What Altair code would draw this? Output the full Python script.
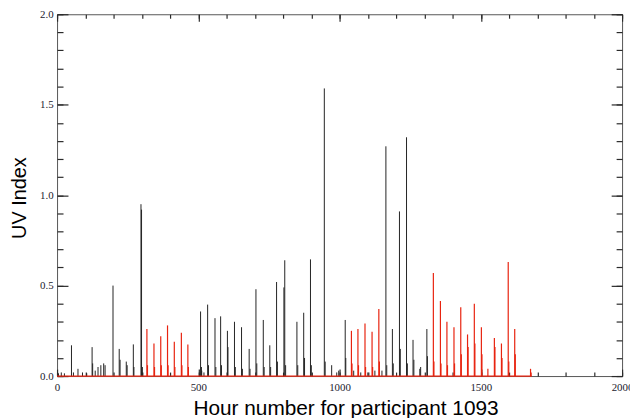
import altair as alt
import pandas as pd

# ---- data (hour, UV index at spike top) ----
black_hours = [5, 15, 26, 51, 58, 74, 90, 105, 124, 126, 135, 145, 155, 165, 170,
               198, 220, 223, 245, 248, 270, 272, 297, 299, 302, 512, 520,
               508, 511, 533, 536, 559, 562, 579, 582, 603, 605, 628, 631, 653, 656,
               680, 683, 704, 707, 730, 733, 753, 756, 777, 780, 803, 806, 809,
               849, 852, 873, 876, 897, 900, 946, 949, 972, 990, 997,
               1020, 1022, 1050, 1075, 1100, 1125, 1150, 1164, 1167, 1187, 1190,
               1212, 1215, 1237, 1240, 1260, 1263, 1284, 1287, 1309, 1311]
black_values = [0.015, 0.02, 0.015, 0.17, 0.02, 0.04, 0.02, 0.015, 0.16, 0.07, 0.03, 0.05, 0.06, 0.07, 0.06,
                0.50, 0.15, 0.09, 0.08, 0.06, 0.175, 0.05, 0.95, 0.92, 0.05, 0.03, 0.02,
                0.357, 0.05, 0.395, 0.06, 0.32, 0.05, 0.33, 0.06, 0.25, 0.16, 0.30, 0.05, 0.27, 0.04,
                0.15, 0.04, 0.48, 0.07, 0.31, 0.05, 0.17, 0.05, 0.52, 0.08, 0.49, 0.64, 0.06,
                0.30, 0.06, 0.35, 0.10, 0.645, 0.06, 1.59, 0.08, 0.06, 0.02, 0.03,
                0.31, 0.10, 0.03, 0.02, 0.02, 0.03, 0.03, 1.27, 0.06, 0.26, 0.07,
                0.91, 0.15, 1.32, 0.07, 0.20, 0.09, 0.04, 0.05, 0.26, 0.11]

red_hours = [318, 320, 343, 345, 367, 369, 391, 393, 415, 417, 440, 442, 463, 465,
             1042, 1044, 1065, 1067, 1090, 1092, 1115, 1117, 1139, 1141,
             1332, 1334, 1357, 1359, 1380, 1382, 1405, 1407, 1429, 1431, 1453, 1455,
             1477, 1479, 1502, 1504, 1525, 1548, 1550, 1573, 1575, 1597, 1599,
             1620, 1622, 1676, 1678]
red_values = [0.26, 0.06, 0.18, 0.05, 0.22, 0.06, 0.28, 0.06, 0.19, 0.05, 0.24, 0.06, 0.175, 0.05,
              0.25, 0.07, 0.26, 0.06, 0.29, 0.05, 0.245, 0.05, 0.37, 0.08,
              0.57, 0.08, 0.415, 0.07, 0.30, 0.06, 0.27, 0.07, 0.38, 0.12, 0.23, 0.16,
              0.40, 0.18, 0.27, 0.12, 0.04, 0.21, 0.16, 0.18, 0.10, 0.63, 0.08,
              0.26, 0.12, 0.04, 0.02]
red_span = [0, 1680]

x_major = [0, 500, 1000, 1500, 2000]
x_minor = [0, 100, 200, 300, 400, 500, 600, 700, 800, 900, 1000, 1100, 1200, 1300,
           1400, 1500, 1600, 1700, 1800, 1900, 2000]
y_major = [0.0, 0.5, 1.0, 1.5, 2.0]
y_minor = [0.0, 0.1, 0.2, 0.3, 0.4, 0.5, 0.6, 0.7, 0.8, 0.9, 1.0, 1.1, 1.2, 1.3,
           1.4, 1.5, 1.6, 1.7, 1.8, 1.9, 2.0]

black_df = pd.DataFrame({"hour": black_hours, "uv": black_values})
red_df = pd.DataFrame({"hour": red_hours, "uv": red_values})
span_df = pd.DataFrame({"start": [red_span[0]], "end": [red_span[1]], "uv": [0.0]})

xs = alt.Scale(domain=[0, 2000], nice=False, zero=False)
ys = alt.Scale(domain=[0, 2], nice=False)

TICK = "#2a2a2a"
RED = "#e8230f"


def tick_axis(orient, size, values):
    # inward-pointing ticks: the axis is pulled inside the frame by its own tick length
    return alt.Axis(orient=orient, offset=-size, tickSize=size, values=values,
                    domain=False, labels=False, grid=False, title=None,
                    tickColor=TICK, tickWidth=1.2)


x_label_axis = alt.Axis(orient="bottom", values=x_major, format="d", labelFlush=False,
                        ticks=False, tickSize=0, domain=False, grid=False,
                        labelFont="Liberation Serif", labelFontSize=11, labelColor="#1a1a2e",
                        labelPadding=6,
                        title="Hour number for participant 1093",
                        titleFont="Liberation Sans", titleFontSize=21, titleFontWeight="normal",
                        titleColor="#000000", titleBaseline="alphabetic",
                        titleX=291, titleY=38.5)
y_label_axis = alt.Axis(orient="left", values=y_major, format=".1f",
                        ticks=False, tickSize=0, domain=False, grid=False,
                        labelFont="Liberation Serif", labelFontSize=11, labelColor="#1a1a2e",
                        labelPadding=4,
                        title="UV Index",
                        titleFont="Liberation Sans", titleFontSize=20, titleFontWeight="normal",
                        titleColor="#000000", titleBaseline="alphabetic", titleAngle=270,
                        titleX=-32, titleY=185)

black = alt.Chart(black_df).mark_rule(color="#222222", strokeWidth=1).encode(
    x=alt.X("hour:Q", scale=xs, axis=x_label_axis),
    y=alt.Y("uv:Q", scale=ys, axis=y_label_axis),
    y2=alt.datum(0),
)

baseline = alt.Chart(span_df).mark_rule(color=RED, strokeWidth=1.2).encode(
    x=alt.X("start:Q", scale=xs, axis=tick_axis("bottom", 4, x_minor)),
    x2="end:Q",
    y=alt.Y("uv:Q", scale=ys, axis=tick_axis("left", 6, y_minor)),
)

red = alt.Chart(red_df).mark_rule(color=RED, strokeWidth=1.2).encode(
    x=alt.X("hour:Q", scale=xs, axis=tick_axis("bottom", 7, x_major)),
    y=alt.Y("uv:Q", scale=ys, axis=tick_axis("left", 11, y_major)),
    y2=alt.datum(0),
)

ghost1 = alt.Chart(black_df).mark_rule(opacity=0).encode(
    x=alt.X("hour:Q", scale=xs, axis=tick_axis("top", 7, x_major)),
    y=alt.Y("uv:Q", scale=ys, axis=tick_axis("right", 11, y_major)),
)
ghost2 = alt.Chart(black_df).mark_rule(opacity=0).encode(
    x=alt.X("hour:Q", scale=xs, axis=tick_axis("top", 4, x_minor)),
    y=alt.Y("uv:Q", scale=ys, axis=tick_axis("right", 6, y_minor)),
)

chart = alt.layer(black, baseline, red, ghost1, ghost2).resolve_axis(
    x="independent", y="independent"
).properties(
    width=570, height=365,
    autosize=alt.AutoSizeParams(type="none"),
    padding={"left": 49.5, "top": 4.5, "right": 8, "bottom": 40},
    background="white",
).configure_view(stroke="#555555", strokeWidth=1)

chart.save("out.html", embed_options={"renderer": "svg", "actions": False})
